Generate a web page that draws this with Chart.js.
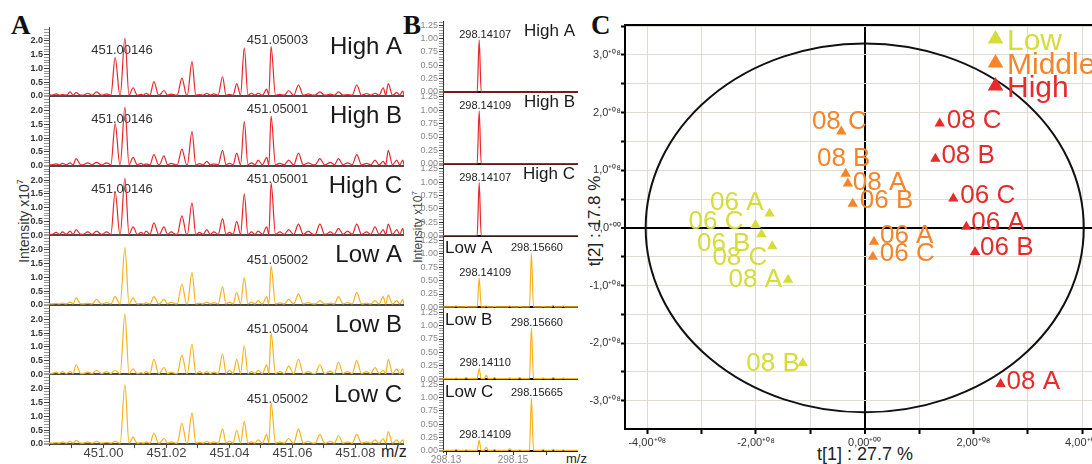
<!DOCTYPE html>
<html>
<head>
<meta charset="utf-8">
<script src="https://cdn.jsdelivr.net/npm/chart.js@4.4.1/dist/chart.umd.min.js"></script>
<style>
html,body{margin:0;padding:0;background:#fff;overflow:hidden;}
#wrap{position:relative;width:1092px;height:464px;overflow:hidden;background:#fff;font-family:'Liberation Sans',Arial,sans-serif;}
#wrap canvas{position:absolute;left:0;top:0;}
.t{position:absolute;white-space:nowrap;line-height:1;color:#222;}
.rot{transform:translate(-50%,-50%) rotate(-90deg);transform-origin:center center;}
.letter{font-family:'Liberation Serif','DejaVu Serif',serif;font-weight:bold;font-size:27px;color:#111;}
sup{font-size:65%;vertical-align:super;line-height:0;}
</style>
</head>
<body>
<div id="wrap">
  <div class="t letter" style="left:11px;top:12px;">A</div>
  <div class="t letter" style="left:403px;top:12px;">B</div>
  <div class="t letter" style="left:591px;top:12px;">C</div>
  <div class="t rot" style="left:24px;top:221px;font-size:14px;color:#333;">Intensity x10<sup>7</sup></div>
  <div class="t rot" style="left:418px;top:227px;font-size:12px;color:#444;">Intensity x10<sup>7</sup></div>
  <div class="t" style="left:381px;top:444px;font-size:16px;color:#222;">m/z</div>
  <div class="t" style="left:566px;top:452px;font-size:13px;color:#222;">m/z</div>
  <div class="t" style="left:865px;top:445px;font-size:18px;color:#222;transform:translateX(-50%);">t[1] : 27.7 %</div>
  <div class="t rot" style="left:594px;top:221px;font-size:17px;color:#222;">t[2] : 17.8 %</div>
</div>
<script>
// ================= DATA =================
// Panel A : m/z 451.0 region (peak centroids)
const MZ_A = [450.9850,450.9870,450.9894,450.9913,450.9950,450.9978,451.0010,451.0037,451.0068,451.0094,
              451.0120,451.0135,451.0160,451.0192,451.0215,451.0249,451.0281,451.0305,451.0328,451.0350,
              451.0378,451.0400,451.0423,451.0447,451.0470,451.0491,451.0518,451.0532,451.0560,451.0588,
              451.0619,451.0650,451.0687,451.0720,451.0746,451.0775,451.0804,451.0835,451.0862,451.0888,
              451.0904,451.0931,451.0950];
const HIGH_A_INT = [.08,.05,.15,.12,.10,.15,.08,1.40,2.10,.30, .06,.10,.52,.20,.07,.65,1.25,.05,.10,.08,
                    .70,.06,.45,1.75,.10,.10,.25,1.80,.06,.20, .40,.08,.15,.07,.15,.05,.40,.09,.10,.30, .45,.12,.18];
const HIGH_B_INT = [.06,.08,.10,.25,.10,.12,.10,1.52,2.12,.30, .08,.06,.40,.35,.08,.60,1.24,.07,.15,.06,
                    .55,.08,.45,1.60,.10,.20,.30,1.80,.08,.20, .45,.10,.25,.12,.25,.10,.40,.08,.20,.15, .55,.20,.20];
const HIGH_C_INT = [.10,.12,.15,.20,.12,.15,.12,1.58,2.07,.30, .10,.15,.45,.30,.12,.70,1.18,.10,.20,.12,
                    .60,.10,.50,1.50,.12,.15,.30,1.90,.12,.20, .40,.15,.40,.12,.25,.15,.40,.12,.30,.20, .40,.20,.25];
const LOW_A_INT  = [.05,.06,.10,.25,.06,.20,.08,.30,2.08,.25, .05,.08,.30,.20,.10,.75,1.17,.06,.10,.08,
                    .65,.10,.45,.99,.10,.15,.30,1.41,.07,.20, .40,.08,.15,.06,.30,.08,.45,.06,.15,.30, .35,.15,.20];
const LOW_B_INT  = [.08,.10,.10,.35,.08,.15,.10,.15,2.20,.20, .06,.10,.55,.25,.08,.70,1.10,.10,.10,.08,
                    .75,.15,.55,1.05,.10,.15,.35,1.50,.10,.30, .55,.10,.35,.12,.45,.10,.50,.10,.25,.15, .55,.20,.20];
const LOW_C_INT  = [.05,.08,.10,.12,.08,.10,.06,.10,2.15,.25, .05,.08,.40,.20,.08,.75,1.13,.06,.10,.08,
                    .55,.10,.50,.82,.08,.15,.35,1.50,.08,.20, .55,.10,.35,.10,.30,.08,.35,.08,.15,.20, .45,.15,.15];
const SAMPLES = ['High A','High B','High C','Low A','Low B','Low C'];
const A_NOTE_1 = ['451.00146','451.00146','451.00146','','',''];
const A_NOTE_2 = ['451.05003','451.05001','451.05001','451.05002','451.05004','451.05002'];
const A_X_LABELS = [451.00,451.02,451.04,451.06,451.08];

// Panel B : m/z 298.1 region
const MZ_B = [298.1330,298.1360,298.1399,298.1420,298.1445,298.1490,298.1520,298.1555,298.1590,298.1620,298.1650];
const B_HIGH_A = [0,0,0.97,0,0,0,0,0,0,0,0];
const B_HIGH_B = [0,0,0.99,0,0,0,0,0,0,0,0];
const B_HIGH_C = [0,0,0.99,0,0,0,0,0,0,0,0];
const B_LOW_A  = [0.03,0.02,0.55,0.03,0.02,0.03,0.02,1.01,0.02,0.04,0.03];
const B_LOW_B  = [0.02,0.03,0.20,0.07,0.03,0.02,0.03,0.96,0.02,0.03,0.02];
const B_LOW_C  = [0.03,0.02,0.20,0.07,0.03,0.04,0.02,0.99,0.03,0.03,0.02];
const B_NOTE_1 = ['298.14107','298.14109','298.14107','298.14109','298.14110','298.14109'];
const B_NOTE_2 = ['','','','298.15660','298.15660','298.15665'];
const B_X_LABELS = [298.13,298.15];

// Panel C : PCA score plot (scores in units of 10^8)
const LOW_LABELS  = ['06 A','06 C','06 B','08 C','08 A','08 B'];
const LOW_T1      = [-1.75,-2.01,-1.90,-1.70,-1.41,-1.14];
const LOW_T2      = [ 0.25, 0.05,-0.11,-0.32,-0.90,-2.35];
const MID_LABELS  = ['08 C','08 B','08 A','06 B','06 A','06 C'];
const MID_T1      = [-0.43,-0.35,-0.31,-0.22, 0.17, 0.15];
const MID_T2      = [ 1.67, 0.94, 0.77, 0.42,-0.24,-0.50];
const HIGH_LABELS = ['08 C','08 B','06 C','06 A','06 B','08 A'];
const HIGH_T1     = [ 1.38, 1.30, 1.63, 1.87, 2.03, 2.50];
const HIGH_T2     = [ 1.81, 1.20, 0.51, 0.02,-0.42,-2.71];
const GROUPS = ['Low','Middle','High'];
const ELLIPSE_T1 = 4.03, ELLIPSE_T2 = 3.2;

// ================= STYLE / LAYOUT =================
const W = 1092, H = 464;
const SANS = "'Liberation Sans', Arial, sans-serif";
const RED = '#e8262b', GOLD = '#f7b21c';
const C_COLORS = {Low:'#d6dc3a', Middle:'#f4852a', High:'#e62b2b'};
const wrap = document.getElementById('wrap');

function buildTrace(mz, inten, base, hw, xMin, xMax){
  const pk = mz.map((m,i)=>({x:m, y:inten[i]})).filter(p=>p.y>0);
  const out = [{x:xMin, y:base}];
  pk.forEach((p,i)=>{
    const prev = pk[i-1];
    if (!prev) out.push({x:Math.max(p.x-hw, xMin+1e-7), y:base});
    else if (p.x - prev.x > 2*hw){ out.push({x:prev.x+hw, y:base}); out.push({x:p.x-hw, y:base}); }
    else out.push({x:(prev.x+p.x)/2, y:base});
    out.push({x:p.x, y:p.y});
  });
  const last = pk[pk.length-1];
  if (last.x + hw < xMax){ out.push({x:last.x+hw, y:base}); out.push({x:xMax, y:base}); }
  else out.push({x:xMax, y:base});
  return out;
}

const isZero = v => Math.abs(v) < 1e-9;

function spectrumChart(cfg){
  const c = document.createElement('canvas');
  c.width = W; c.height = H; wrap.appendChild(c);
  const ppu = cfg.pitch/(cfg.yMax-cfg.yMin);
  const bottom = cfg.zero - cfg.yMin*ppu;
  const top = bottom - cfg.pitch;
  const xh = cfg.showX ? cfg.xAxisH : 0;
  return new Chart(c, {
    type:'line',
    data:{datasets:[{data:cfg.data, borderColor:cfg.color, borderWidth:1.2, pointRadius:0,
                     cubicInterpolationMode:'monotone', fill:false}]},
    options:{
      responsive:false, animation:false, events:[],
      layout:{padding:{left:cfg.left-cfg.yAxisW, right:W-cfg.right, top:top, bottom:H-bottom-xh}},
      plugins:{legend:{display:false}, tooltip:{enabled:false}},
      scales:{
        x:{type:'linear', min:cfg.xMin, max:cfg.xMax, display:cfg.showX,
           afterFit:s=>{ if (cfg.showX) s.height=cfg.xAxisH; },
           border:{display:false},
           grid:{drawOnChartArea:false, tickLength:3, tickColor:cfg.axisColor, tickWidth:1},
           ticks:{stepSize:0.01, includeBounds:false, autoSkip:false, maxRotation:0, maxTicksLimit:100,
                  padding:cfg.xTickPad, color:cfg.xTickColor, font:{family:SANS, size:cfg.xTickSize},
                  callback:v=>cfg.xLabels.some(l=>Math.abs(l-v)<1e-6) ? v.toFixed(2) : ''}},
        y:{type:'linear', min:cfg.yMin, max:cfg.yMax,
           afterFit:s=>{s.width=cfg.yAxisW;},
           border:{display:true, color:cfg.axisColor, width:1},
           grid:{color:c=>c.tick && isZero(c.tick.value) ? cfg.zeroColor : 'rgba(0,0,0,0)',
                 lineWidth:c=>c.tick && isZero(c.tick.value) ? 2 : 1,
                 tickLength:cfg.yTickLen,
                 tickColor:c=>c.tick && cfg.isMajor(c.tick.value) ? cfg.axisColor : '#999',
                 tickWidth:1},
           ticks:{stepSize:cfg.yStep, includeBounds:false, autoSkip:false, maxTicksLimit:100,
                  padding:cfg.yTickPad, color:cfg.yTickColor,
                  font:{family:SANS, size:cfg.yTickSize, weight:cfg.yTickWeight},
                  callback:v=>cfg.isMajor(v) ? v.toFixed(cfg.yDec) : ''}}
      }
    },
    plugins:[{id:'notes', beforeDatasetsDraw:cfg.drawText}]
  });
}

// ---------- Panel A ----------
const A_SERIES = [HIGH_A_INT, HIGH_B_INT, HIGH_C_INT, LOW_A_INT, LOW_B_INT, LOW_C_INT];
const A_L = {left:49, right:404, zero0:96, pitch:69.6, yMin:-0.04, yMax:2.49, xMin:450.9827, xMax:451.0954};
A_SERIES.forEach((s,i)=>{
  spectrumChart({
    data: buildTrace(MZ_A, s, 0.03, 0.0015, A_L.xMin, A_L.xMax),
    color: i<3 ? RED : GOLD,
    left:A_L.left, right:A_L.right, zero:A_L.zero0 + A_L.pitch*i, pitch:A_L.pitch,
    yMin:A_L.yMin, yMax:A_L.yMax, xMin:A_L.xMin, xMax:A_L.xMax,
    showX: i===5, xAxisH:22, xTickPad:-2, xTickColor:'#444', xTickSize:13, xLabels:A_X_LABELS,
    yAxisW:35, yTickLen:5, yTickPad:1, yStep:0.1, yTickColor:'#333', yTickSize:9, yTickWeight:'bold', yDec:1,
    isMajor:v=>Math.abs(v*2-Math.round(v*2))<1e-6,
    axisColor:'#444', zeroColor:'#4a4a4a',
    drawText:chart=>{
      const {ctx, chartArea:ca, scales:{x,y}} = chart;
      const z = y.getPixelForValue(0);
      ctx.save(); ctx.textBaseline='alphabetic';
      ctx.fillStyle='#1a1a1a'; ctx.font='24px '+SANS; ctx.textAlign='right';
      ctx.fillText(SAMPLES[i], ca.right-2, z-42.4);
      ctx.fillStyle='#333'; ctx.font='13px '+SANS; ctx.textAlign='center';
      if (A_NOTE_1[i]) ctx.fillText(A_NOTE_1[i], x.getPixelForValue(MZ_A[8])-3, z-42.3);
      ctx.fillText(A_NOTE_2[i], x.getPixelForValue(MZ_A[27])+6.5, z-(i<3?52.3:41.3));
      ctx.restore();
    }
  });
});

// ---------- Panel B ----------
const B_SERIES = [B_HIGH_A, B_HIGH_B, B_HIGH_C, B_LOW_A, B_LOW_B, B_LOW_C];
const B_L = {left:443, right:578, zero0:92, pitch:71.8, yMin:-0.02, yMax:1.32, xMin:298.1291, xMax:298.1694};
B_SERIES.forEach((s,i)=>{
  spectrumChart({
    data: buildTrace(MZ_B, s, i<3 ? 0 : 0.01, 0.0006, B_L.xMin, B_L.xMax),
    color: i<3 ? RED : GOLD,
    left:B_L.left, right:B_L.right, zero:B_L.zero0 + B_L.pitch*i, pitch:B_L.pitch,
    yMin:B_L.yMin, yMax:B_L.yMax, xMin:B_L.xMin, xMax:B_L.xMax,
    showX: i===5, xAxisH:14, xTickPad:-1, xTickColor:'#888', xTickSize:10, xLabels:B_X_LABELS,
    yAxisW:30, yTickLen:4, yTickPad:1, yStep:0.05, yTickColor:'#888', yTickSize:9, yTickWeight:'normal', yDec:2,
    isMajor:v=>Math.abs(v*4-Math.round(v*4))<1e-6,
    axisColor:'#333', zeroColor:'#111',
    drawText:chart=>{
      const {ctx, chartArea:ca, scales:{x,y}} = chart;
      const z = y.getPixelForValue(0);
      ctx.save(); ctx.textBaseline='alphabetic'; ctx.fillStyle='#1a1a1a'; ctx.font='17px '+SANS;
      if (i<3){ ctx.textAlign='right'; ctx.fillText(SAMPLES[i], ca.right-3, z-56.4); }
      else { ctx.textAlign='left'; ctx.fillText(SAMPLES[i], ca.left+2, z-54); }
      ctx.fillStyle='#222'; ctx.font='11px '+SANS; ctx.textAlign='center';
      ctx.fillText(B_NOTE_1[i], x.getPixelForValue(MZ_B[2])+6, y.getPixelForValue(s[2])-2);
      if (B_NOTE_2[i]) ctx.fillText(B_NOTE_2[i], x.getPixelForValue(MZ_B[7])+5.5, y.getPixelForValue(s[7])-2);
      ctx.restore();
    }
  });
});

// ---------- Panel C ----------
const WC = 1130;
const cC = document.createElement('canvas'); cC.width = WC; cC.height = H; wrap.appendChild(cC);
const SUP = {'0':'\u2070','8':'\u2078','+':'\u207A'};
const sup = s => s.split('').map(ch=>SUP[ch]||ch).join('');
function fmtC(u, dec){
  if (Math.abs(u) < 1e-9) return (0).toFixed(dec).replace('.',',') + sup('+00');
  return u.toFixed(dec).replace('.',',') + sup('+08');
}
const LABEL_PLACE = {
  Low:   {'06 A':['right',-6,-13], '06 C':['right',-12,-5], '06 B':['right',-11,7], '08 C':['right',-5,9], '08 A':['right',-6,-2], '08 B':['right',-3,-2]},
  Middle:{'08 C':['center',-2,-12], '08 B':['center',-2,-17], '08 A':['left',5,-3], '06 B':['left',7,-5], '06 A':['left',6,-8], '06 C':['left',7,-5]},
  High:  {'08 C':['left',7,-5], '08 B':['left',6,-5], '06 C':['left',7,-5], '06 A':['left',5,-6], '06 B':['left',5,-6], '08 A':['left',6,-4]}
};
const C_LABELS = [LOW_LABELS, MID_LABELS, HIGH_LABELS];
const mk = (xs, ys) => xs.map((x,i)=>({x, y:ys[i]}));
new Chart(cC, {
  type:'scatter',
  data:{datasets:[
    {label:'Low',    data:mk(LOW_T1, LOW_T2),  backgroundColor:C_COLORS.Low},
    {label:'Middle', data:mk(MID_T1, MID_T2),  backgroundColor:C_COLORS.Middle},
    {label:'High',   data:mk(HIGH_T1, HIGH_T2), backgroundColor:C_COLORS.High}
  ].map(d=>Object.assign(d,{pointStyle:'triangle', pointRadius:6, borderWidth:0, borderColor:d.backgroundColor}))},
  options:{
    responsive:false, animation:false, events:[],
    layout:{padding:{left:590, right:WC-1106.6, top:25, bottom:H-429-30}},
    plugins:{legend:{display:false}, tooltip:{enabled:false}},
    scales:{
      x:{type:'linear', min:-4.41, max:4.45,
         afterFit:s=>{s.height=30;},
         border:{color:'#000', width:2},
         grid:{color:c=>c.tick && isZero(c.tick.value) ? '#000' : '#e0dad0',
               lineWidth:c=>c.tick && isZero(c.tick.value) ? 2 : 1,
               tickLength:5, tickColor:'#000', tickWidth:2},
         ticks:{stepSize:1, includeBounds:false, autoSkip:false, maxRotation:0, maxTicksLimit:50, padding:2,
                color:'#333', font:{family:SANS, size:11},
                callback:v=>{const r=Math.round(v); return (Math.abs(v-r)<1e-6 && r%2===0) ? fmtC(v,2) : '';}}},
      y:{type:'linear', min:-3.49, max:3.52,
         afterFit:s=>{s.width=35;},
         border:{color:'#000', width:2},
         grid:{color:c=>c.tick && isZero(c.tick.value) ? '#000' : '#e0dad0',
               lineWidth:c=>c.tick && isZero(c.tick.value) ? 2 : 1,
               tickLength:4, tickColor:'#000', tickWidth:2},
         ticks:{stepSize:0.5, includeBounds:false, autoSkip:false, maxTicksLimit:50, padding:0,
                color:'#333', font:{family:SANS, size:11},
                callback:v=>Math.abs(v-Math.round(v))<1e-6 ? fmtC(v,1) : ''}}
    }
  },
  plugins:[{
    id:'pca',
    beforeDatasetsDraw(chart){
      const {ctx, chartArea:ca, scales:{x,y}} = chart;
      ctx.save();
      ctx.strokeStyle='#000'; ctx.lineWidth=2;
      ctx.beginPath(); ctx.moveTo(ca.left, ca.top); ctx.lineTo(ca.right, ca.top); ctx.stroke();
      const cx = x.getPixelForValue(0), cy = y.getPixelForValue(0);
      const rx = x.getPixelForValue(ELLIPSE_T1)-cx, ry = cy-y.getPixelForValue(ELLIPSE_T2);
      ctx.strokeStyle='#111'; ctx.lineWidth=2;
      ctx.beginPath(); ctx.ellipse(cx, cy, rx, ry, 0, 0, Math.PI*2); ctx.stroke();
      ctx.restore();
    },
    afterDatasetsDraw(chart){
      const {ctx} = chart;
      ctx.save(); ctx.font='26px '+SANS; ctx.textBaseline='alphabetic';
      chart.data.datasets.forEach((ds,di)=>{
        const g = GROUPS[di];
        ctx.fillStyle = C_COLORS[g];
        chart.getDatasetMeta(di).data.forEach((el,j)=>{
          const lab = C_LABELS[di][j];
          const [al,dx,dy] = LABEL_PLACE[g][lab];
          ctx.textAlign = al;
          ctx.fillText(lab, el.x+dx, el.y+dy+9.3);
        });
      });
      // legend
      const LEG_Y = [39, 63, 86];
      ctx.font='30px '+SANS; ctx.textAlign='left';
      GROUPS.forEach((g,k)=>{
        const tx=995.5, ty=LEG_Y[k], r=9;
        ctx.fillStyle=C_COLORS[g];
        ctx.beginPath();
        ctx.moveTo(tx, ty-r); ctx.lineTo(tx+r*0.866, ty+r*0.5); ctx.lineTo(tx-r*0.866, ty+r*0.5); ctx.closePath(); ctx.fill();
        ctx.fillText(g, 1007, ty+10.5);
      });
      ctx.restore();
    }
  }]
});
</script>
</body>
</html>
